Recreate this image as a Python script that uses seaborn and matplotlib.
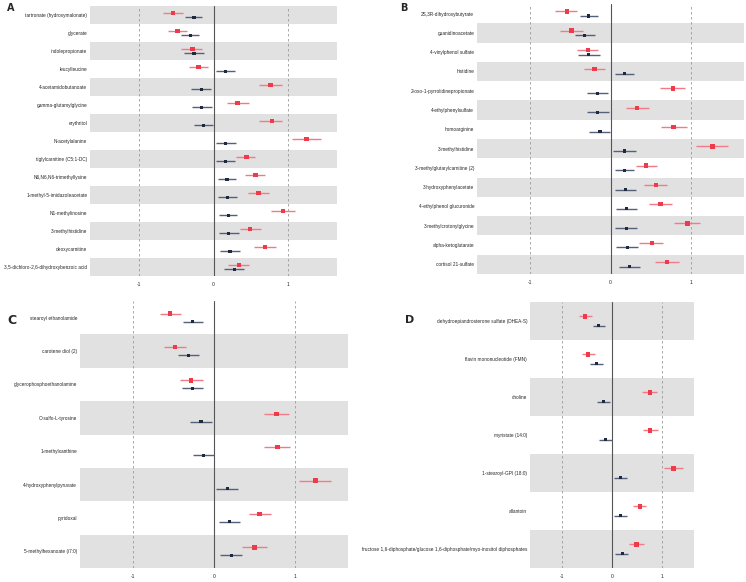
import numpy as np
import pandas as pd
import matplotlib
matplotlib.use("Agg")
import matplotlib.pyplot as plt
import seaborn as sns

sns.set_style("white")
plt.rcParams["font.family"] = ["Liberation Sans", "DejaVu Sans"]

# ---- panel A ----
a_labels = ["tartronate (hydroxymalonate)", "glycerate", "indolepropionate", "leucylleucine",
            "4-acetamidobutanoate", "gamma-glutamylglycine", "erythritol", "N-acetylalanine",
            "tiglylcarnitine (C5:1-DC)", "N6,N6,N6-trimethyllysine", "1-methyl-5-imidazoleacetate",
            "N1-methylinosine", "3-methylhistidine", "deoxycarnitine",
            "3,5-dichloro-2,6-dihydroxybenzoic acid"]
a_red = [-0.54, -0.48, -0.28, -0.20, 0.76, 0.32, 0.78, 1.24, 0.44, 0.56, 0.60, 0.93, 0.49, 0.69, 0.34]
a_red_lo = [-0.68, -0.61, -0.43, -0.33, 0.61, 0.18, 0.61, 1.05, 0.30, 0.42, 0.46, 0.77, 0.35, 0.54, 0.20]
a_red_hi = [-0.41, -0.35, -0.15, -0.08, 0.91, 0.47, 0.92, 1.43, 0.56, 0.69, 0.74, 1.09, 0.64, 0.84, 0.47]
a_navy = [-0.26, -0.31, -0.26, 0.16, -0.16, -0.16, -0.13, 0.16, 0.16, 0.18, 0.19, 0.20, 0.20, 0.22, 0.28]
a_navy_lo = [-0.38, -0.44, -0.40, 0.04, -0.30, -0.29, -0.26, 0.03, 0.04, 0.06, 0.06, 0.07, 0.07, 0.09, 0.14]
a_navy_hi = [-0.15, -0.19, -0.13, 0.29, -0.04, -0.02, -0.01, 0.30, 0.29, 0.30, 0.32, 0.32, 0.34, 0.35, 0.41]

# ---- panel B ----
b_labels = ["2S,3R-dihydroxybutyrate", "guanidinoacetate", "4-vinylphenol sulfate", "histidine",
            "2-oxo-1-pyrrolidinepropionate", "4-ethylphenylsulfate", "homoarginine",
            "3-methylhistidine", "3-methylglutarylcarnitine (2)", "3-hydroxyphenylacetate",
            "4-ethylphenol glucuronide", "3-methylcrotonylglycine", "alpha-ketoglutarate",
            "cortisol 21-sulfate"]
b_red = [-0.54, -0.48, -0.28, -0.20, 0.77, 0.33, 0.78, 1.26, 0.44, 0.56, 0.62, 0.95, 0.51, 0.70]
b_red_lo = [-0.68, -0.62, -0.42, -0.33, 0.61, 0.19, 0.63, 1.06, 0.31, 0.42, 0.47, 0.78, 0.35, 0.55]
b_red_hi = [-0.41, -0.34, -0.15, -0.07, 0.92, 0.47, 0.94, 1.45, 0.58, 0.70, 0.76, 1.11, 0.65, 0.85]
b_navy = [-0.27, -0.32, -0.27, 0.17, -0.16, -0.16, -0.13, 0.17, 0.17, 0.19, 0.20, 0.20, 0.21, 0.23]
b_navy_lo = [-0.38, -0.44, -0.40, 0.05, -0.29, -0.29, -0.27, 0.03, 0.05, 0.06, 0.07, 0.06, 0.07, 0.10]
b_navy_hi = [-0.15, -0.19, -0.13, 0.29, -0.03, -0.02, -0.01, 0.31, 0.29, 0.31, 0.33, 0.33, 0.34, 0.36]

# ---- panel C ----
c_labels = ["stearoyl ethanolamide", "carotene diol (2)", "glycerophosphoethanolamine",
            "O-sulfo-L-tyrosine", "1-methylxanthine", "4-hydroxyphenylpyruvate", "pyridoxal",
            "5-methylhexanoate (i7:0)"]
c_red = [-0.54, -0.48, -0.28, 0.77, 0.78, 1.25, 0.56, 0.50]
c_red_lo = [-0.67, -0.62, -0.42, 0.61, 0.62, 1.05, 0.43, 0.35]
c_red_hi = [-0.41, -0.35, -0.14, 0.92, 0.94, 1.44, 0.70, 0.65]
c_navy = [-0.26, -0.31, -0.26, -0.16, -0.13, 0.17, 0.19, 0.21]
c_navy_lo = [-0.38, -0.44, -0.40, -0.30, -0.26, 0.03, 0.06, 0.07]
c_navy_hi = [-0.14, -0.18, -0.13, -0.03, 0.00, 0.30, 0.32, 0.34]

# ---- panel D ----
d_labels = ["dehydroepiandrosterone sulfate (DHEA-S)", "flavin mononucleotide (FMN)", "choline",
            "myristate (14:0)", "1-stearoyl-GPI (18:0)", "allantoin",
            "fructose 1,6-diphosphate/glucose 1,6-diphosphate/myo-inositol diphosphates"]
d_red = [-0.54, -0.48, 0.76, 0.77, 1.24, 0.56, 0.49]
d_red_lo = [-0.67, -0.61, 0.61, 0.62, 1.05, 0.43, 0.35]
d_red_hi = [-0.41, -0.35, 0.91, 0.92, 1.43, 0.69, 0.64]
d_navy = [-0.27, -0.31, -0.17, -0.13, 0.17, 0.18, 0.21]
d_navy_lo = [-0.38, -0.44, -0.30, -0.26, 0.04, 0.05, 0.07]
d_navy_hi = [-0.15, -0.19, -0.04, -0.01, 0.31, 0.31, 0.33]

point_colors = {"case": "#ee3b4c", "ctrl": "#1f2a3c"}
line_colors = {"case": "#f27a86", "ctrl": "#55607a"}


def forest(ax, labels, red, red_lo, red_hi, navy, navy_lo, navy_hi, grey_odd, offs=(-0.12, 0.12)):
    n = len(labels)
    rows = np.arange(n)
    df = pd.concat([
        pd.DataFrame({"row": rows, "group": "case", "est": red, "lo": red_lo, "hi": red_hi,
                      "pos": rows + offs[0]}),
        pd.DataFrame({"row": rows, "group": "ctrl", "est": navy, "lo": navy_lo, "hi": navy_hi,
                      "pos": rows + offs[1]}),
    ])
    # alternating grey bands
    for r in rows:
        if (r % 2 == 0) == grey_odd:
            ax.axhspan(r - 0.5, r + 0.5, color="#e1e1e1", lw=0, zorder=0)
    ax.axvline(0, color="#555555", lw=0.8, zorder=1)
    for v in (-1, 1):
        ax.axvline(v, color="#9a9a9a", lw=0.6, ls=(0, (3, 3)), zorder=1)
    ax.hlines(df["pos"], df["lo"], df["hi"], colors=df["group"].map(line_colors), lw=1.0, zorder=2)
    sns.scatterplot(data=df, x="est", y="pos", hue="group", size="group",
                    palette=point_colors, marker="s",
                    sizes={"case": 10, "ctrl": 5}, linewidth=0, legend=False, ax=ax, zorder=3)
    ax.set_ylim(n - 0.5, -0.5)
    ax.set_xlim(-1.65, 1.65)
    ax.set_yticks(rows)
    ax.set_yticklabels(labels, fontsize=3.4)
    ax.set_xticks([-1, 0, 1])
    ax.set_xticklabels(["-1", "0", "1"], fontsize=3.6)
    ax.tick_params(length=0, pad=2)
    ax.tick_params(axis="x", pad=4)
    ax.set_xlabel("")
    ax.set_ylabel("")
    sns.despine(ax=ax, left=True, bottom=True)


W, H = 746, 582
fig = plt.figure(figsize=(W / 100, H / 100), dpi=100)


def box(l, t, r, b):
    return [l / W, 1 - b / H, (r - l) / W, (b - t) / H]


axA = fig.add_axes(box(90, 6, 337, 276))
forest(axA, a_labels, a_red, a_red_lo, a_red_hi, a_navy, a_navy_lo, a_navy_hi, True, (-0.12, 0.13))
axB = fig.add_axes(box(477, 4, 744, 274))
forest(axB, b_labels, b_red, b_red_lo, b_red_hi, b_navy, b_navy_lo, b_navy_hi, False)
axC = fig.add_axes(box(80, 301, 348, 568))
forest(axC, c_labels, c_red, c_red_lo, c_red_hi, c_navy, c_navy_lo, c_navy_hi, False)
axD = fig.add_axes(box(530, 302, 694, 568))
forest(axD, d_labels, d_red, d_red_lo, d_red_hi, d_navy, d_navy_lo, d_navy_hi, True)

for txt, x, y, fs in [("A", 7, 3, 7), ("B", 400, 3, 7), ("C", 7, 314, 9), ("D", 405, 315, 8)]:
    fig.text(x / W, 1 - y / H, txt, fontsize=fs, fontweight="bold", ha="left", va="top",
             family=["DejaVu Sans"])

fig.savefig("out.png", dpi=100)
